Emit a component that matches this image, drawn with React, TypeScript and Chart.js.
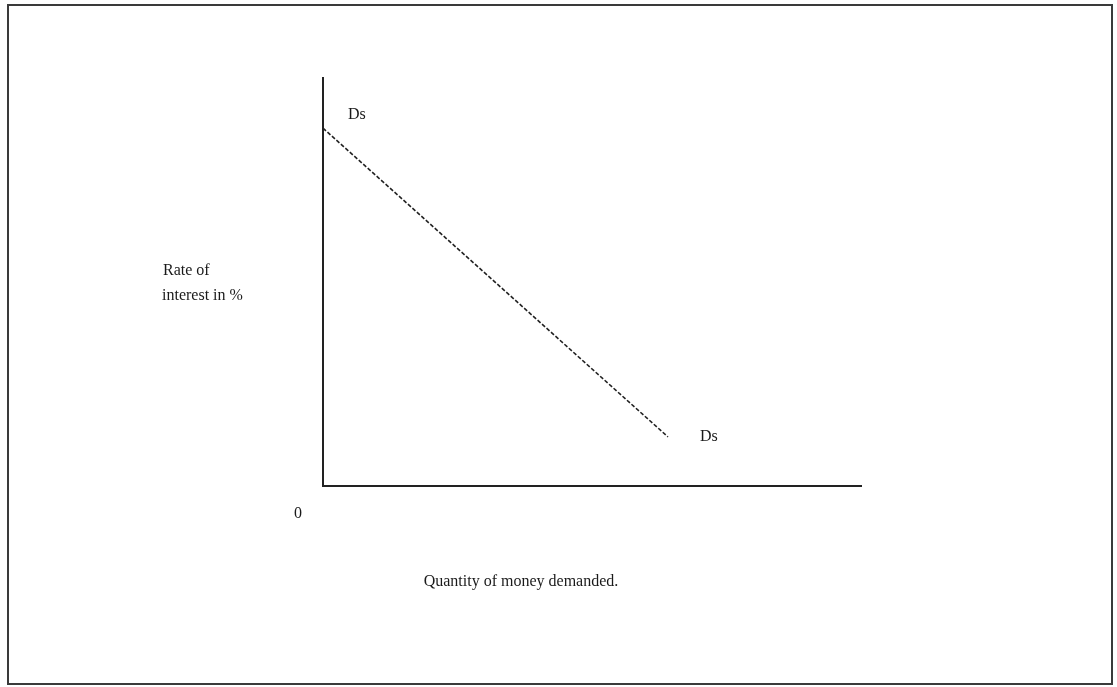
import React, { useEffect, useRef } from "react";
import { Chart, registerables } from "chart.js";

Chart.register(...registerables);

const demandX: number[] = [0, 64];
const demandY: number[] = [87.5, 12];
const curveLabels: string[] = ["Ds", "Ds"];
const yAxisLabel: string[] = ["Rate of", "interest in %"];
const xAxisLabel = "Quantity of money demanded.";
const originLabel = "0";

const FONT = '16px "Liberation Serif", "DejaVu Serif", serif';

const decorPlugin = {
  id: "decor",
  beforeDraw(chart: any) {
    const ctx = chart.ctx;
    ctx.save();
    ctx.fillStyle = "#ffffff";
    ctx.fillRect(0, 0, chart.width, chart.height);
    ctx.strokeStyle = "#3a3a3a";
    ctx.lineWidth = 2;
    ctx.strokeRect(8, 5, 1104, 679);
    ctx.restore();
  },
  afterDraw(chart: any) {
    const ctx = chart.ctx;
    const { left, right, top, bottom } = chart.chartArea;
    const xs = chart.scales.x;
    const ys = chart.scales.y;
    ctx.save();
    ctx.strokeStyle = "#222222";
    ctx.lineWidth = 2;
    ctx.beginPath();
    ctx.moveTo(left, top);
    ctx.lineTo(left, bottom);
    ctx.lineTo(right, bottom);
    ctx.stroke();

    ctx.fillStyle = "#1a1a1a";
    ctx.font = FONT;
    ctx.textBaseline = "middle";
    ctx.textAlign = "left";
    ctx.fillText(curveLabels[0], xs.getPixelForValue(demandX[0]) + 25, ys.getPixelForValue(demandY[0]) - 13);
    ctx.fillText(curveLabels[1], xs.getPixelForValue(demandX[1]) + 32, ys.getPixelForValue(demandY[1]));
    ctx.fillText(yAxisLabel[0], 163, 271);
    ctx.fillText(yAxisLabel[1], 162, 296);
    ctx.textAlign = "center";
    ctx.fillText(originLabel, left - 25, bottom + 28);
    ctx.fillText(xAxisLabel, 521, 582);
    ctx.restore();
  },
};

export default function App() {
  const ref = useRef<HTMLCanvasElement | null>(null);
  useEffect(() => {
    if (!ref.current) return;
    const chart = new Chart(ref.current, {
      type: "scatter",
      data: {
        datasets: [
          {
            data: demandX.map((x, i) => ({ x, y: demandY[i] })),
            showLine: true,
            borderColor: "#222222",
            borderWidth: 1.6,
            borderDash: [4, 2],
            pointRadius: 0,
            fill: false,
          },
        ],
      },
      options: {
        animation: false,
        responsive: false,
        maintainAspectRatio: false,
        layout: { padding: { left: 323, right: 255, top: 77, bottom: 201 } },
        plugins: { legend: { display: false }, tooltip: { enabled: false } },
        scales: {
          x: { type: "linear", min: 0, max: 100, display: false },
          y: { type: "linear", min: 0, max: 100, display: false },
        },
      },
      plugins: [decorPlugin],
    });
    return () => chart.destroy();
  }, []);
  return (
    <div style={{ position: "absolute", left: 0, top: 0, width: 1117, height: 687 }}>
      <canvas ref={ref} width={1117} height={687} style={{ display: "block" }} />
    </div>
  );
}
